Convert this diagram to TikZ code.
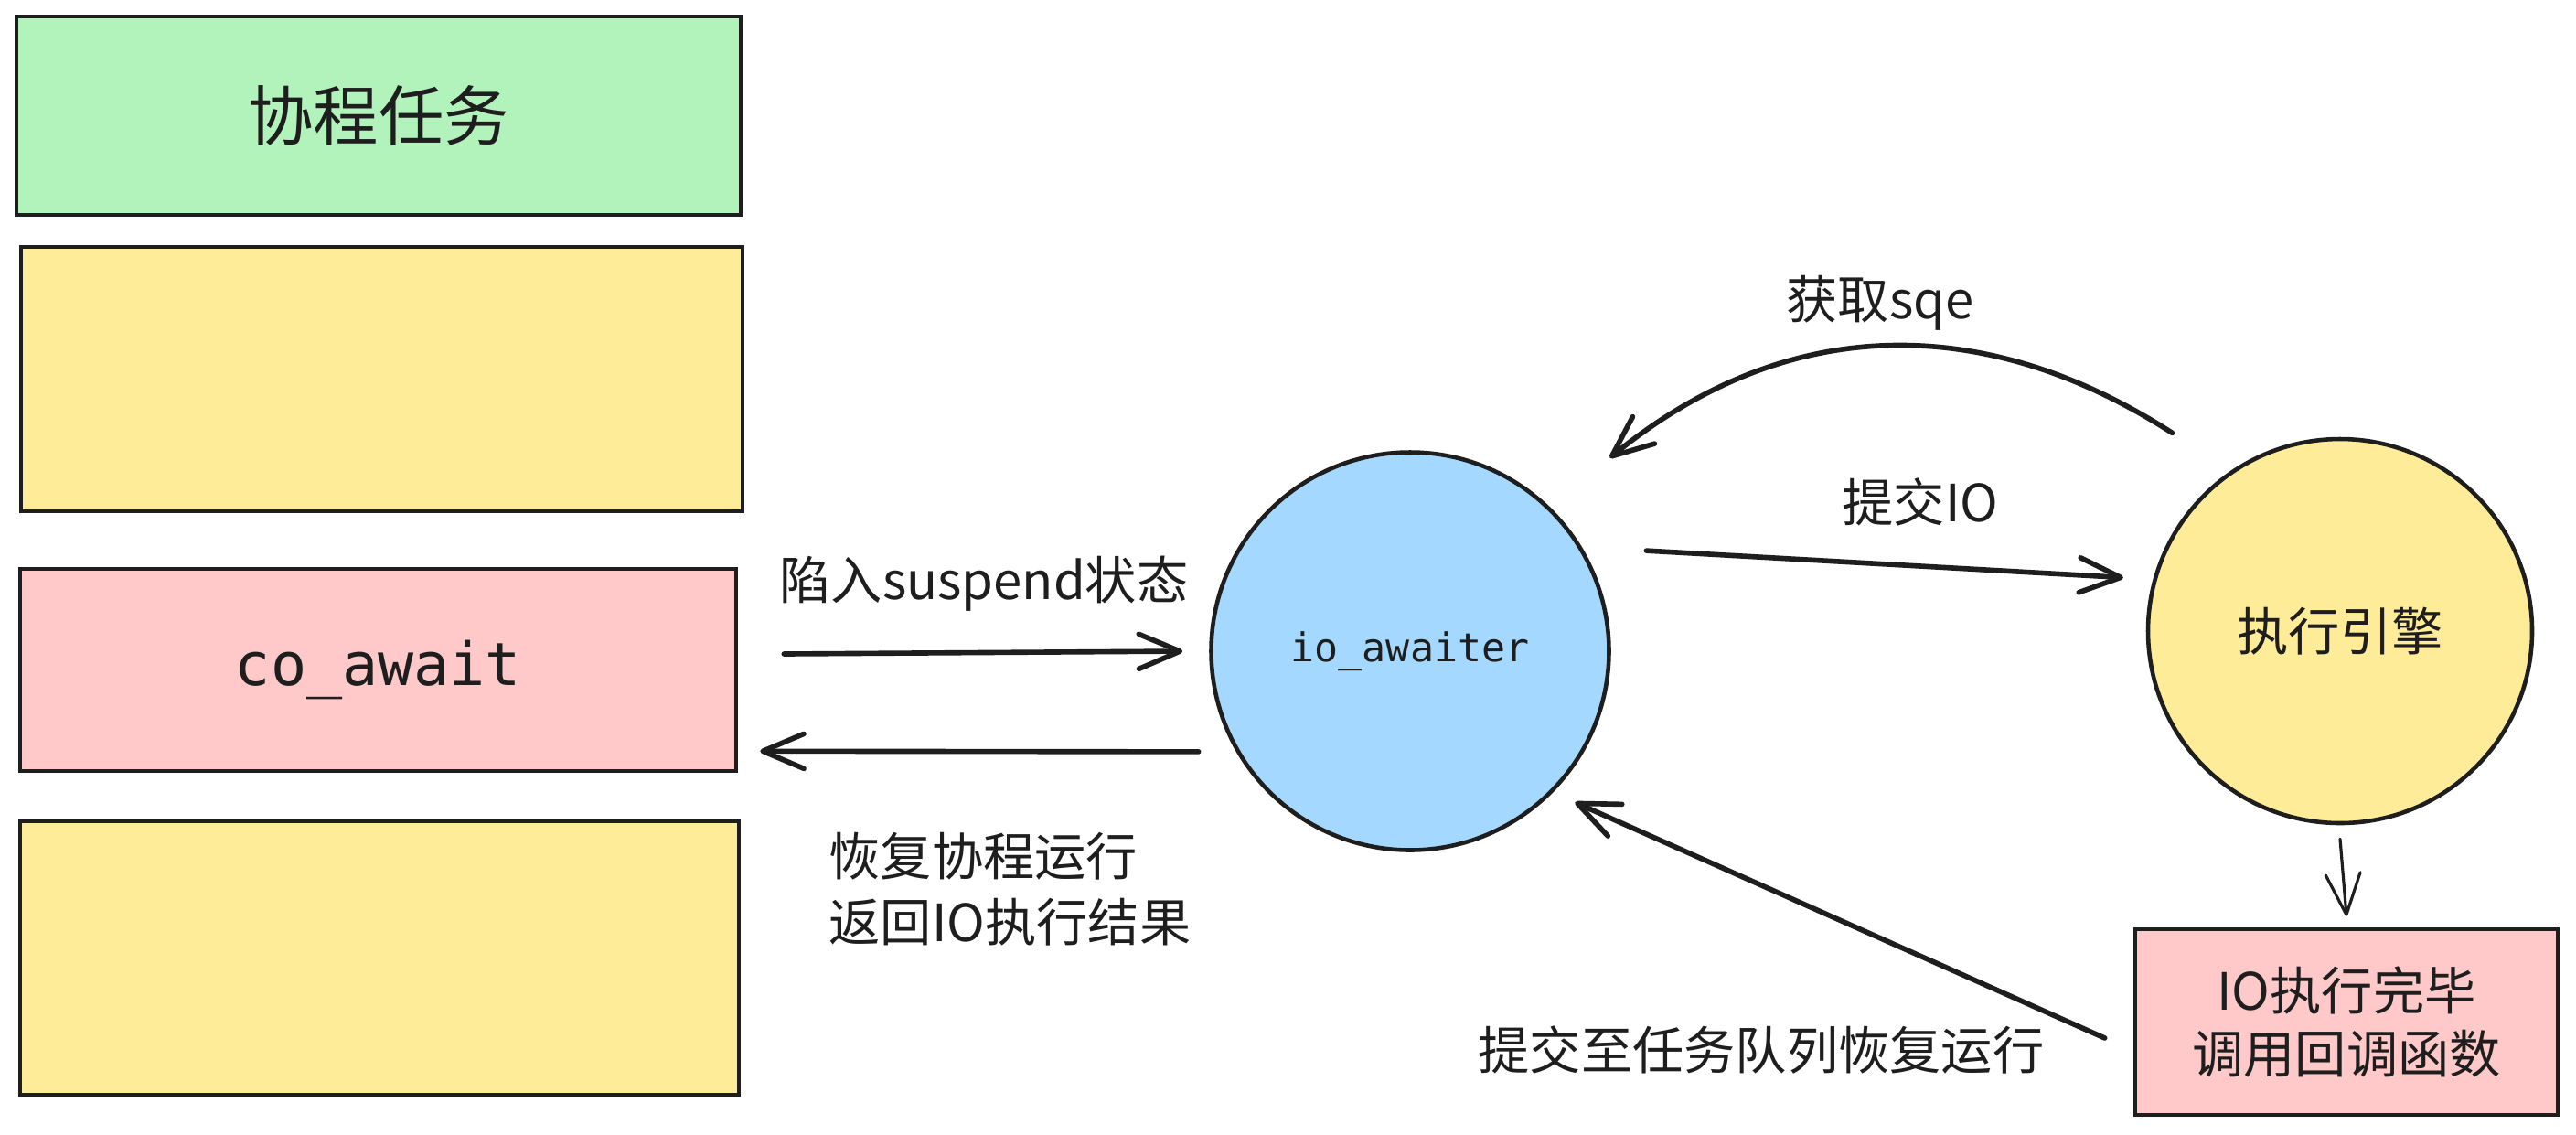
\documentclass[tikz,border=0pt]{standalone}
\usepackage{fontspec}
\setmainfont{Noto Sans CJK SC}
\newfontfamily\codefont{DejaVu Sans Mono}
\usetikzlibrary{arrows.meta}
\definecolor{ink}{HTML}{1E1E1E}
\definecolor{taskgreen}{HTML}{B2F2BB}
\definecolor{slotyellow}{HTML}{FFEC99}
\definecolor{awaitpink}{HTML}{FFC9C9}
\definecolor{awaiterblue}{HTML}{A5D8FF}

\begin{document}
\begin{tikzpicture}[
    box/.style={draw=ink, line width=1.3pt, rectangle, inner sep=0pt, text=ink},
    blob/.style={draw=ink, line width=1.3pt, circle, inner sep=0pt, text=ink},
    lbl/.style={text=ink, inner sep=0pt, font=\fontsize{16}{20.5}\selectfont},
    flow/.style={draw=ink, line width=1.6pt, line cap=round,
      -{Straight Barb[length=4.5mm, width=3.8mm, round]}},
    thinflow/.style={flow, line width=0.9pt}
  ]
  \path[use as bounding box, fill=white] (0,0) rectangle (28.17,-12.40);

  \node[box, fill=taskgreen, minimum width=7.92cm, minimum height=2.17cm,
    font=\fontsize{20.3}{24}\selectfont] (task) at (4.14,-1.265) {协程任务};
  \node[box, fill=slotyellow, minimum width=7.89cm, minimum height=2.89cm] (slotA) at (4.175,-4.145) {};
  \node[box, fill=awaitpink, minimum width=7.83cm, minimum height=2.21cm,
    font=\codefont\fontsize{18.5}{22}\selectfont] (await) at (4.135,-7.325) {co\_await};
  \node[box, fill=slotyellow, minimum width=7.86cm, minimum height=2.99cm] (slotB) at (4.15,-10.475) {};

  \node[blob, fill=awaiterblue, minimum size=4.35cm,
    font=\codefont\fontsize{12.3}{15}\selectfont] (awaiter) at (15.42,-7.12) {io\_awaiter};
  \node[blob, fill=slotyellow, minimum size=4.2cm,
    font=\fontsize{16}{20.5}\selectfont] (engine) at (25.59,-6.90) {执行引擎};
  \node[box, fill=awaitpink, minimum width=4.62cm, minimum height=2.03cm, align=center,
    font=\fontsize{16}{19.6}\selectfont] (done) at (25.66,-11.175) {IO执行完毕\\调用回调函数};

  \draw[flow] ([shift={(0.50,0.175)}]await.east) -- ([xshift=-0.29cm]awaiter.west);
  \draw[flow] ([xshift=-0.41cm]awaiter.210) -- ([shift={(0.24,0.24)}]await.south east);
  \draw[flow] ([xshift=0.68cm]awaiter.30) -- ([xshift=-0.33cm]engine.164);
  \draw[flow] ([shift={(-0.47,0.54)}]engine.130)
    .. controls +(-2.1,1.35) and +(1.9,1.55) .. ([shift={(0.63,0.56)}]awaiter.45);
  \draw[thinflow] ([yshift=-0.15cm]engine.south) -- ([yshift=0.12cm]done.north);
  \draw[flow] ([shift={(-0.31,-0.175)}]done.west) -- ([shift={(0.12,-0.24)}]awaiter.-40);

  \node[lbl] (lblSqe) at (20.56,-3.31) {获取sqe};
  \node[lbl] (lblSubmit) at (21.00,-5.49) {提交IO};
  \node[lbl] (lblSuspend) at (10.76,-6.38) {陷入suspend状态};
  \node[lbl, align=left, anchor=west] (lblResume) at (9.06,-9.72) {恢复协程运行\\返回IO执行结果};
  \node[lbl] (lblQueue) at (19.26,-11.48) {提交至任务队列恢复运行};
\end{tikzpicture}
\end{document}
